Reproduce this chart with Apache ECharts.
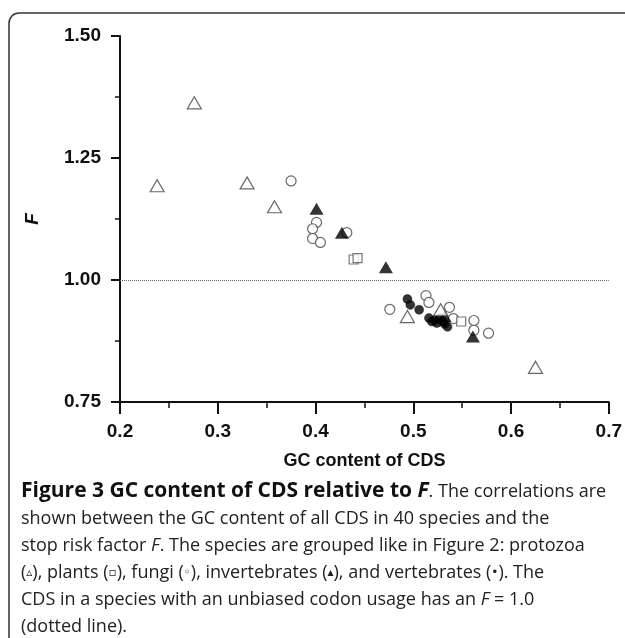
<!DOCTYPE html>
<html>
<head>
<meta charset="utf-8">
<script src="https://cdn.jsdelivr.net/npm/echarts@6/dist/echarts.min.js"></script>
<style>
html,body{margin:0;padding:0;background:#fff;}
#c{width:625px;height:638px;}
</style>
</head>
<body>
<div id="c"></div>
<script>
// GC content of CDS (x) vs stop risk factor F (y)
const xTicks = [0.2, 0.3, 0.4, 0.5, 0.6, 0.7];
const yTicks = [0.75, 1.00, 1.25, 1.50];

const protozoa = [[0.238,1.193],[0.276,1.363],[0.330,1.199],[0.358,1.150],[0.494,0.925],[0.528,0.939],[0.625,0.821]];
const plants = [[0.439,1.042],[0.443,1.045],[0.549,0.915]];
const fungi = [[0.375,1.203],[0.401,1.118],[0.397,1.105],[0.397,1.085],[0.405,1.077],[0.432,1.097],
               [0.476,0.940],[0.513,0.968],[0.516,0.954],[0.537,0.944],[0.541,0.921],[0.562,0.917],
               [0.562,0.897],[0.577,0.891]];
const invertebrates = [[0.401,1.146],[0.427,1.097],[0.472,1.026],[0.532,0.926],[0.561,0.884]];
const vertebrates = [[0.494,0.961],[0.497,0.949],[0.506,0.939],[0.516,0.922],[0.519,0.915],[0.522,0.918],
                     [0.524,0.912],[0.527,0.922],[0.530,0.915],[0.532,0.910],[0.535,0.904]];
const unbiasedF = 1.0;

const chart = echarts.init(document.getElementById('c'), null, {renderer:'canvas'});
const axisFont = {fontFamily:'Liberation Sans, Arial, sans-serif', fontWeight:'bold', fontSize:19, color:'#111'};
const capFont = '"Open Sans", sans-serif';

chart.setOption({
  animation:false,
  backgroundColor:'#fff',
  grid:{left:120, right:16, top:36, bottom:236, containLabel:false},
  xAxis:{
    type:'value', min:xTicks[0], max:xTicks[xTicks.length-1], interval:0.1,
    name:'GC content of CDS', nameLocation:'middle', nameGap:50,
    nameTextStyle:Object.assign({}, axisFont, {fontSize:18}),
    axisLine:{show:true, onZero:false, lineStyle:{color:'#111', width:2}},
    axisTick:{show:true, length:12, lineStyle:{color:'#111', width:2}},
    minorTick:{show:true, splitNumber:2, length:6, lineStyle:{color:'#111', width:1.5}},
    splitLine:{show:false},
    axisLabel:Object.assign({margin:20, formatter:v=>v.toFixed(1)}, axisFont)
  },
  yAxis:{
    type:'value', min:yTicks[0], max:yTicks[yTicks.length-1], interval:0.25,
    name:'F', nameLocation:'middle', nameGap:78, nameRotate:90,
    nameTextStyle:Object.assign({}, axisFont, {fontStyle:'italic'}),
    axisLine:{show:true, onZero:false, lineStyle:{color:'#111', width:2}},
    axisTick:{show:true, length:9, lineStyle:{color:'#111', width:2}},
    minorTick:{show:true, splitNumber:2, length:5, lineStyle:{color:'#111', width:1.5}},
    splitLine:{show:false},
    axisLabel:Object.assign({margin:19, formatter:v=>v.toFixed(2)}, axisFont)
  },
  series:[
    {type:'scatter', name:'fungi', data:fungi, symbol:'circle', symbolSize:10,
     itemStyle:{color:'#fff', borderColor:'#444', borderWidth:1.2},
     markLine:{silent:true, symbol:['none','none'], label:{show:false},
       lineStyle:{type:'dotted', color:'#666', width:1}, data:[{yAxis:unbiasedF}]}},
    {type:'scatter', name:'plants', data:plants, symbol:'rect', symbolSize:9,
     itemStyle:{color:'#fff', borderColor:'#555', borderWidth:1.2}},
    {type:'scatter', name:'vertebrates', data:vertebrates, symbol:'circle', symbolSize:9,
     itemStyle:{color:'#000', borderColor:'#000', borderWidth:0.5}},
    {type:'scatter', name:'invertebrates', data:invertebrates, symbol:'triangle', symbolSize:[14,12],
     itemStyle:{color:'#000'}},
    {type:'scatter', name:'protozoa', data:protozoa, symbol:'triangle', symbolSize:[14,12],
     itemStyle:{color:'#fff', borderColor:'#444', borderWidth:1.2}}
  ],
  graphic:[
    {type:'rect', shape:{x:9, y:13, width:680, height:700, r:10}, silent:true,
     style:{fill:'none', stroke:'#333', lineWidth:1.5}},
    {type:'text', left:21, top:481, silent:true,
     style:{
       text:'{b|Figure 3 GC content of CDS relative to }{bi|F}{n|. The correlations are}\n' +
            '{n|shown between the GC content of all CDS in 40 species and the}\n' +
            '{n|stop risk factor }{i|F}{n|. The species are grouped like in Figure 2: protozoa}\n' +
            '{n|(}{s|\u25B5}{n|), plants (}{s|\u25AB}{n|), fungi (}{s|\u25E6}{n|), invertebrates (}{s|\u25B4}{n|), and vertebrates (}{s|\u2022}{n|). The}\n' +
            '{n|CDS in a species with an unbiased codon usage has an }{i|F}{n| = 1.0}\n' +
            '{n|(dotted line).}',
       rich:{
         b:{fontFamily:capFont, fontWeight:'bold', fontSize:21, lineHeight:27, fill:'#111'},
         bi:{fontFamily:capFont, fontWeight:'bold', fontStyle:'italic', fontSize:21, lineHeight:27, fill:'#111'},
         n:{fontFamily:capFont, fontSize:18, lineHeight:27, fill:'#222'},
         i:{fontFamily:capFont, fontStyle:'italic', fontSize:18, lineHeight:27, fill:'#222'},
         s:{fontFamily:'DejaVu Sans', fontSize:12, lineHeight:27, fill:'#222'}
       }
     }}
  ]
});
</script>
</body>
</html>
